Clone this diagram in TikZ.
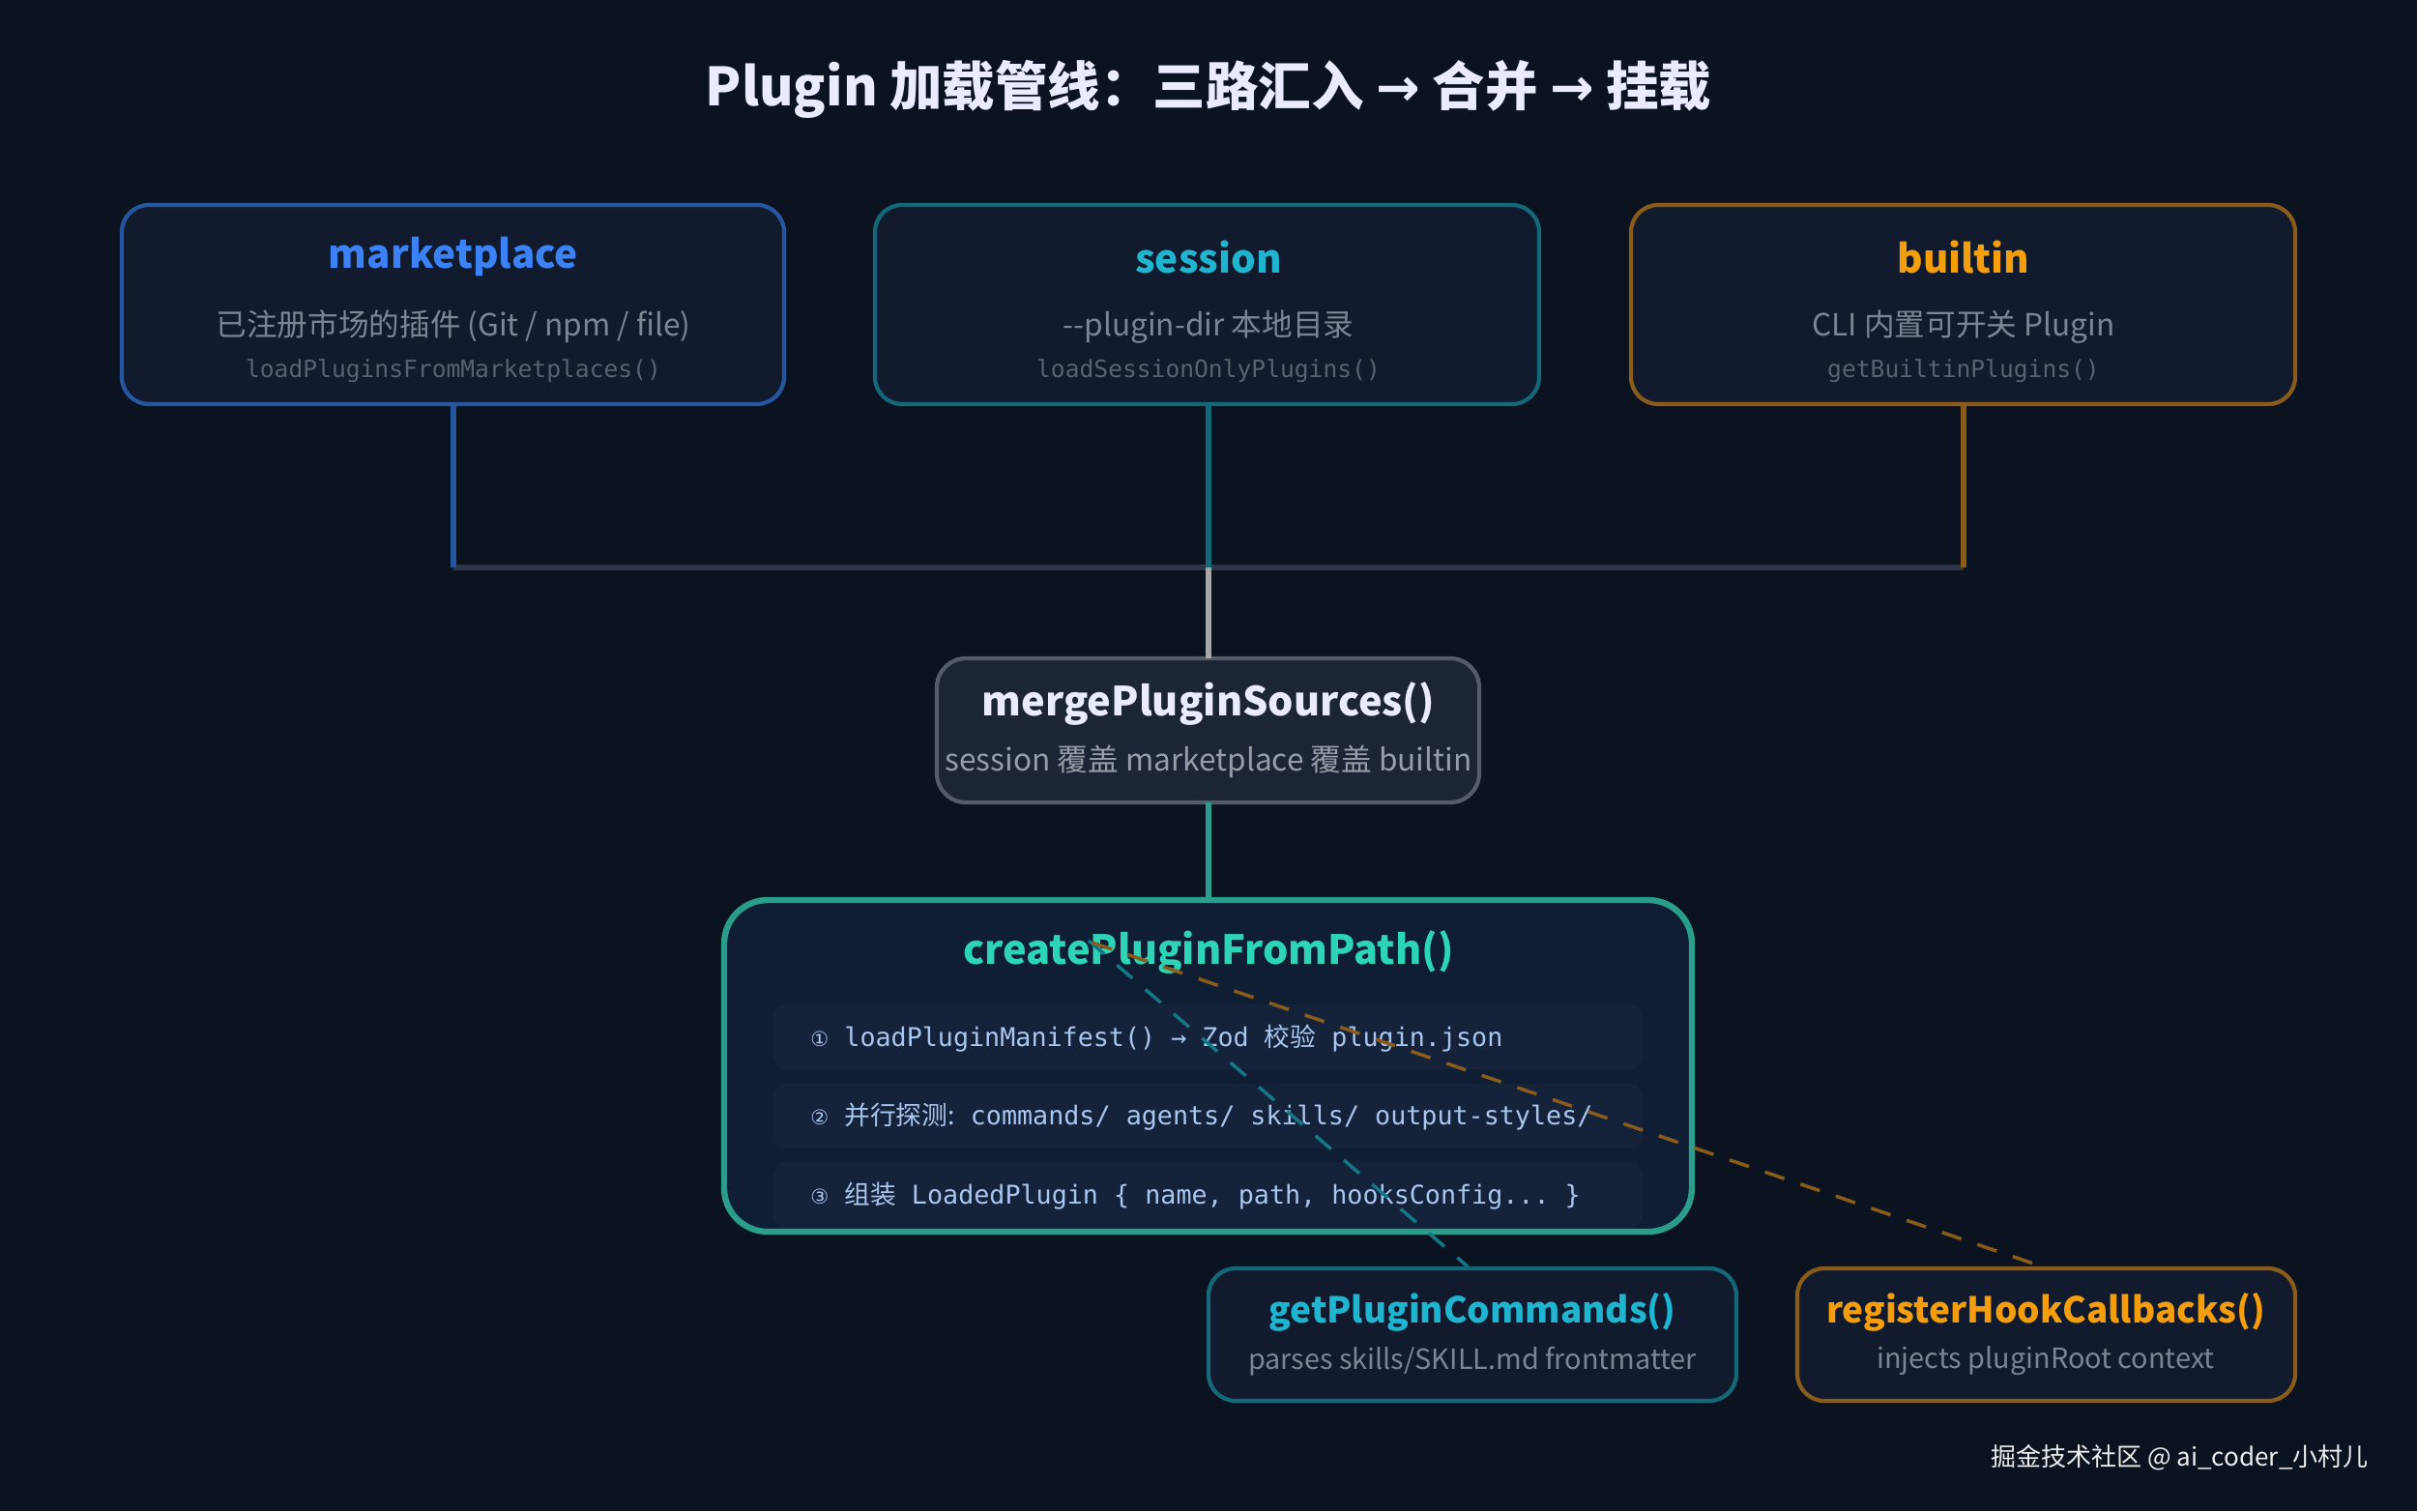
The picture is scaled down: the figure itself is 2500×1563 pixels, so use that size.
\documentclass[tikz,border=0pt]{standalone}
\usepackage{fontspec}
\setmainfont{Noto Sans CJK SC}
\setmonofont{DejaVu Sans Mono}
\newfontfamily\cjk{Noto Sans CJK SC}
\newfontfamily\sym{DejaVu Sans}
\begin{document}
\begin{tikzpicture}[x=0.01cm,y=-0.01cm,
  box/.style={draw, rounded corners=0.28cm, line width=1.2pt, fill=boxfill},
  ttl/.style={font=\fontsize{11.5}{13}\selectfont\bfseries, anchor=center},
  sub/.style={font=\fontsize{9}{11}\selectfont, text=subgray, anchor=center},
  code/.style={font=\ttfamily\fontsize{7}{9}\selectfont, text=codegray, anchor=center},
  row/.style={fill=rowfill, rounded corners=0.12cm},
  rowt/.style={font=\ttfamily\fontsize{7.6}{9}\selectfont, text=rowtext, anchor=west},
  link/.style={line width=1.5pt}]
\definecolor{bg}{HTML}{0C1320}
\definecolor{boxfill}{HTML}{111B2D}
\definecolor{rowfill}{HTML}{14223A}
\definecolor{subgray}{HTML}{7C8594}
\definecolor{codegray}{HTML}{59626F}
\definecolor{rowtext}{HTML}{A9C6F0}
\definecolor{mblue}{HTML}{3B82F6}
\definecolor{mborder}{HTML}{2756A0}
\definecolor{steal}{HTML}{1FB5D0}
\definecolor{sborder}{HTML}{156878}
\definecolor{orng}{HTML}{F59E0B}
\definecolor{oborder}{HTML}{8A5C1C}
\definecolor{cteal}{HTML}{2DD4B5}
\definecolor{cborder}{HTML}{2A9D8C}
\definecolor{crfill}{HTML}{0F1E33}
\definecolor{gline}{HTML}{2C3646}
\definecolor{merborder}{HTML}{545C6A}
\fill[bg] (0,0) rectangle (2500,1563);
\useasboundingbox (0,0) rectangle (2500,1563);

\node[font=\fontsize{15.5}{18}\selectfont\bfseries, text=white!92!blue] (title) at (1250,92) {Plugin 加载管线：三路汇入 {\sym →} 合并 {\sym →} 挂载};

% source boxes
\path[box, draw=mborder] (126,212) rectangle (811,418);
\path[box, draw=sborder] (905,212) rectangle (1592,418);
\path[box, draw=oborder] (1687,212) rectangle (2374,418);
\coordinate (mkb) at (469,418);
\coordinate (ssb) at (1250,418);
\coordinate (bib) at (2031,418);
\node[ttl, text=mblue] (mkt) at (469,266) {marketplace};
\node[sub] (mks) at (469,338) {已注册市场的插件 (Git / npm / file)};
\node[code] (mkc) at (469,384) {loadPluginsFromMarketplaces()};
\node[ttl, text=steal] (sst) at (1250,266) {session};
\node[sub] (sss) at (1250,338) {-{}-plugin-dir 本地目录};
\node[code] (ssc) at (1250,384) {loadSessionOnlyPlugins()};
\node[ttl, text=orng] (bit) at (2031,266) {builtin};
\node[sub] (bis) at (2031,338) {CLI 内置可开关 Plugin};
\node[code] (bic) at (2031,384) {getBuiltinPlugins()};

% bus
\coordinate (bl) at (469,587);
\coordinate (bc) at (1250,587);
\coordinate (br) at (2031,587);
\draw[gline, line width=1.5pt] (bl) -- (br);
\draw[mborder, link] (mkb) -- (bl);
\draw[sborder, link] (ssb) -- (bc);
\draw[oborder, link] (bib) -- (br);

% merge
\path[box, draw=merborder, rounded corners=0.3cm, fill=boxfill!90!gray] (969,681) rectangle (1530,830);
\coordinate (mgt) at (1250,681);
\coordinate (mgb) at (1250,830);
\node[font=\fontsize{11.8}{14}\selectfont\bfseries, text=white!92!blue] (mgn) at (1250,728) {mergePluginSources()};
\node[font=\fontsize{9}{11}\selectfont, text=subgray!80!white] (mgs) at (1250,788) {session 覆盖 marketplace 覆盖 builtin};
\draw[gray!70, link] (bc) -- (mgt);

% create
\path[box, draw=cborder, rounded corners=0.45cm, line width=1.8pt, fill=crfill] (749,931) rectangle (1750,1274);
\coordinate (crt) at (1250,931);
\draw[cborder, link] (mgb) -- (crt);
\node[ttl, text=cteal, font=\fontsize{11.8}{14}\selectfont\bfseries] (crn) at (1250,985) {createPluginFromPath()};
\path[row] (800,1039) rectangle (1699,1106);
\path[row] (800,1121) rectangle (1699,1188);
\path[row] (800,1202) rectangle (1699,1270);
\node[rowt] (r1) at (826,1074) {{\sym\fontsize{6}{8}\selectfont ①} loadPluginManifest() → Zod {\cjk 校验} plugin.json};
\node[rowt] (r2) at (826,1155) {{\sym\fontsize{6}{8}\selectfont ②} {\cjk 并行探测:} commands/ agents/ skills/ output-styles/};
\node[rowt] (r3) at (826,1237) {{\sym\fontsize{6}{8}\selectfont ③} {\cjk 组装} LoadedPlugin \{ name, path, hooksConfig... \}};

% bottom boxes
\path[box, draw=sborder] (1250,1312) rectangle (1796,1449);
\path[box, draw=oborder] (1859,1312) rectangle (2374,1449);
\node[ttl, text=steal, font=\fontsize{10.5}{13}\selectfont\bfseries] (gpc) at (1523,1357) {getPluginCommands()};
\node[sub, font=\fontsize{8.2}{10}\selectfont] (gps) at (1523,1408) {parses skills/SKILL.md frontmatter};
\node[ttl, text=orng, font=\fontsize{10.5}{13}\selectfont\bfseries] (rhc) at (2116,1357) {registerHookCallbacks()};
\node[sub, font=\fontsize{8.2}{10}\selectfont] (rhs) at (2116,1408) {injects pluginRoot context};
\coordinate (gtop) at (1518,1310);
\coordinate (rtop) at (2112,1310);
\coordinate (ds1) at (1126,973);
\coordinate (ds2) at (1130,975);
\draw[sborder!90!cyan, line width=1pt, dash pattern=on 6pt off 5pt] (ds1) -- (gtop);
\draw[oborder, line width=1pt, dash pattern=on 6pt off 5pt] (ds2) -- (rtop);

\node[anchor=east, font=\fontsize{7.4}{9}\selectfont, text=white!85!gray] (ft) at (2462,1508) {掘金技术社区 @ ai\_coder\_小村儿};
\end{tikzpicture}
\end{document}
